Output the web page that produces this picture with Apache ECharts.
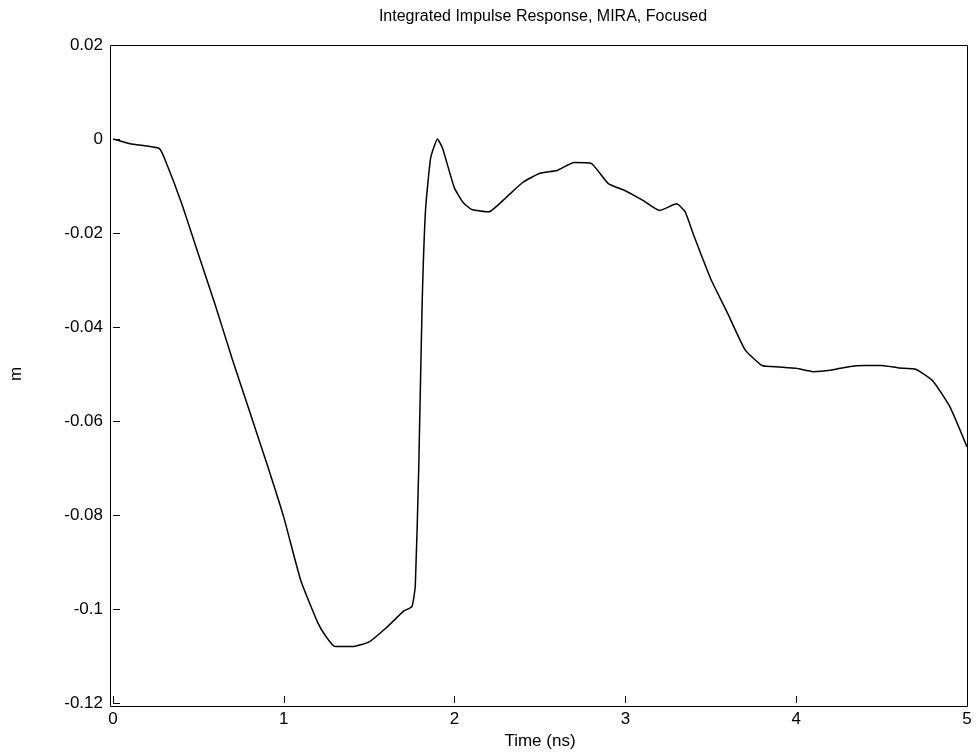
<!DOCTYPE html>
<html><head><meta charset="utf-8">
<script src="https://cdn.jsdelivr.net/npm/echarts@6/dist/echarts.min.js"></script>
<style>html,body{margin:0;padding:0;background:#fff}#c{width:979px;height:755px}</style>
</head><body><div id="c"></div>
<script>
const timeNs = [0,0.1,0.2,0.27,0.3,0.4,0.5,0.6,0.7,0.8,0.9,1.0,1.1,1.2,1.25,1.3,1.4,1.5,1.6,1.7,1.75,1.77,1.79,1.81,1.83,1.86,1.9,1.93,1.97,2.0,2.05,2.1,2.2,2.3,2.4,2.5,2.6,2.7,2.8,2.9,3.0,3.05,3.1,3.2,3.3,3.35,3.4,3.5,3.6,3.7,3.8,3.9,4.0,4.1,4.2,4.3,4.4,4.5,4.6,4.7,4.8,4.9,5.0];
const response = [0,-0.001,-0.0015,-0.002,-0.004,-0.0135,-0.0245,-0.0355,-0.047,-0.058,-0.069,-0.0805,-0.094,-0.103,-0.106,-0.108,-0.108,-0.107,-0.104,-0.1005,-0.0995,-0.095,-0.07,-0.035,-0.015,-0.004,0,-0.002,-0.007,-0.0105,-0.0135,-0.015,-0.0155,-0.0125,-0.0092,-0.0073,-0.0067,-0.005,-0.0052,-0.0095,-0.011,-0.012,-0.013,-0.0152,-0.0138,-0.0155,-0.0205,-0.0298,-0.0372,-0.0448,-0.0482,-0.0485,-0.0488,-0.0495,-0.0492,-0.0485,-0.0482,-0.0482,-0.0487,-0.049,-0.0515,-0.057,-0.0655];
const chart = echarts.init(document.getElementById('c'));
const ax = {color:'#000',fontSize:17,fontFamily:'Liberation Sans, Arial'};
chart.setOption({
  animation:false,
  title:{text:'Integrated Impulse Response, MIRA, Focused',left:538,top:4,textAlign:'center',
    textStyle:{fontWeight:'normal',fontSize:16,color:'#000',fontFamily:'Liberation Sans, Arial'}},
  grid:{left:110,right:12,top:45,bottom:49},
  xAxis:{type:'value',min:0,max:5,interval:1,name:'Time (ns)',nameLocation:'middle',nameGap:30,
    nameTextStyle:ax,axisLabel:{...ax,margin:8},
    axisLine:{show:false,onZero:false},axisTick:{inside:true,length:7,lineStyle:{color:'#000'}},
    splitLine:{show:false}},
  yAxis:{type:'value',min:-0.12,max:0.02,interval:0.02,name:'m',nameLocation:'middle',nameGap:88,
    nameTextStyle:ax,axisLabel:{...ax,margin:10,formatter:v=>{const r=Math.round(v*100)/100;return r===0?'0':String(r);}},
    axisLine:{show:false,onZero:false},axisTick:{inside:true,length:7,lineStyle:{color:'#000'}},
    splitLine:{show:false}},
  series:[{type:'line',data:timeNs.map((t,i)=>[t,response[i]]),showSymbol:false,smooth:0.15,
    lineStyle:{color:'#000',width:1.5}}],
  graphic:[{type:'rect',shape:{x:110.5,y:45.5,width:857,height:661},style:{fill:'none',stroke:'#000',lineWidth:1},silent:true}]
});
</script></body></html>
